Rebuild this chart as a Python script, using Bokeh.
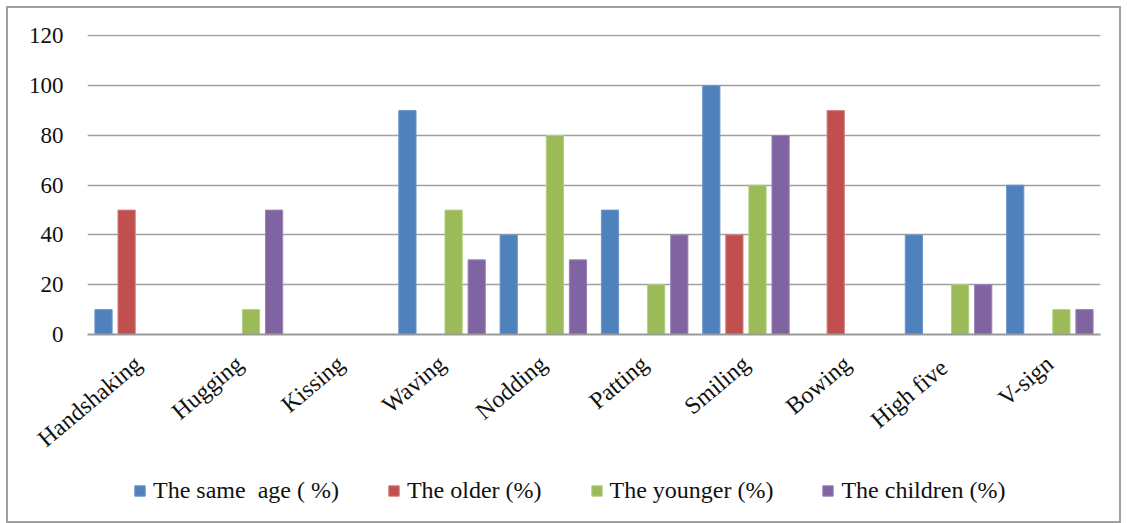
import math
from bokeh.plotting import figure
from bokeh.layouts import column
from bokeh.models import FactorRange, Range1d, FixedTicker, Legend, LegendItem
from bokeh.transform import dodge
from bokeh.models import ColumnDataSource
from bokeh.embed import file_html
from bokeh.resources import INLINE

categories = ["Handshaking", "Hugging", "Kissing", "Waving", "Nodding",
              "Patting", "Smiling", "Bowing", "High  five", "V-sign"]
same_age = [10, 0, 0, 90, 40, 50, 100, 0, 40, 60]
older = [50, 0, 0, 0, 0, 0, 40, 90, 0, 0]
younger = [0, 10, 0, 50, 80, 20, 60, 0, 20, 10]
children = [0, 50, 0, 30, 30, 40, 80, 0, 20, 10]
series_names = ["The same  age ( %)", "The older (%)", "The younger (%)", "The children (%)"]
y_ticks = [0, 20, 40, 60, 80, 100, 120]

colors = ["#4F81BD", "#C0504D", "#9BBB59", "#8064A2"]
edges = ["#6A96CC", "#D77A78", "#B3CF80", "#9A82BA"]

src = ColumnDataSource(dict(cat=categories, s0=same_age, s1=older, s2=younger, s3=children))

FONT = "Liberation Serif"

p = figure(width=1111, height=457, x_range=FactorRange(factors=categories),
           y_range=Range1d(0, 120.6), output_backend="svg", toolbar_location=None,
           min_border_left=79, min_border_right=19, min_border_top=26, min_border_bottom=131)

p.outline_line_color = None
p.background_fill_color = "white"
p.border_fill_color = "white"

offsets = [-0.342, -0.114, 0.114, 0.342]
for i, key in enumerate(["s0", "s1", "s2", "s3"]):
    p.vbar(x=dodge("cat", offsets[i], range=p.x_range), top=key, width=0.17,
           source=src, fill_color=colors[i], line_color=edges[i], line_width=1)

p.xgrid.grid_line_color = None
p.ygrid.grid_line_color = "#A0A0A0"
p.ygrid.grid_line_width = 1.5
p.yaxis.ticker = FixedTicker(ticks=y_ticks)
p.ygrid.ticker = FixedTicker(ticks=y_ticks)

p.yaxis.axis_line_color = None
p.yaxis.major_tick_line_color = None
p.yaxis.minor_tick_line_color = None
p.yaxis.major_tick_out = 0
p.yaxis.major_label_standoff = 24
p.yaxis.major_label_text_font = FONT
p.yaxis.major_label_text_font_size = "23px"
p.yaxis.major_label_text_color = "#111111"

p.xaxis.axis_line_color = "#999999"
p.xaxis.axis_line_width = 2
p.xaxis.major_tick_line_color = None
p.xaxis.major_tick_out = 0
p.xaxis.major_label_standoff = 26
p.xaxis.major_label_orientation = math.radians(40)
p.xaxis.major_label_text_font = FONT
p.xaxis.major_label_text_font_size = "24px"
p.xaxis.major_label_text_color = "#111111"

# legend strip
lf = figure(width=1111, height=56, x_range=Range1d(0, 1), y_range=Range1d(0, 1),
            output_backend="svg", toolbar_location=None,
            min_border_left=0, min_border_right=0, min_border_top=0, min_border_bottom=0)
lf.axis.visible = False
lf.grid.visible = False
lf.outline_line_color = None
lf.background_fill_color = "white"
lf.border_fill_color = "white"
hidden = ColumnDataSource(dict(x=[-10.0], top=[0.0]))
lr = []
for i in range(4):
    lr.append(lf.vbar(x="x", top="top", width=0.1, source=hidden,
                      fill_color=colors[i], line_color=edges[i]))
legend = Legend(items=[LegendItem(label=series_names[i], renderers=[lr[i]]) for i in range(4)],
                orientation="horizontal", location=(46, 17))
legend.label_text_font = FONT
legend.label_text_font_size = "24px"
legend.label_text_color = "#111111"
legend.glyph_width = 13
legend.glyph_height = 13
legend.spacing = 48
legend.label_standoff = 7
legend.border_line_color = None
legend.background_fill_alpha = 0
legend.padding = 4
legend.margin = 0
lf.add_layout(legend, "center")

layout = column(p, lf, spacing=0)
layout.styles = {"outline": "2px solid #A0A0A0", "margin-left": "8px", "margin-top": "8px"}

open("out.html", "w").write(file_html(layout, INLINE))
